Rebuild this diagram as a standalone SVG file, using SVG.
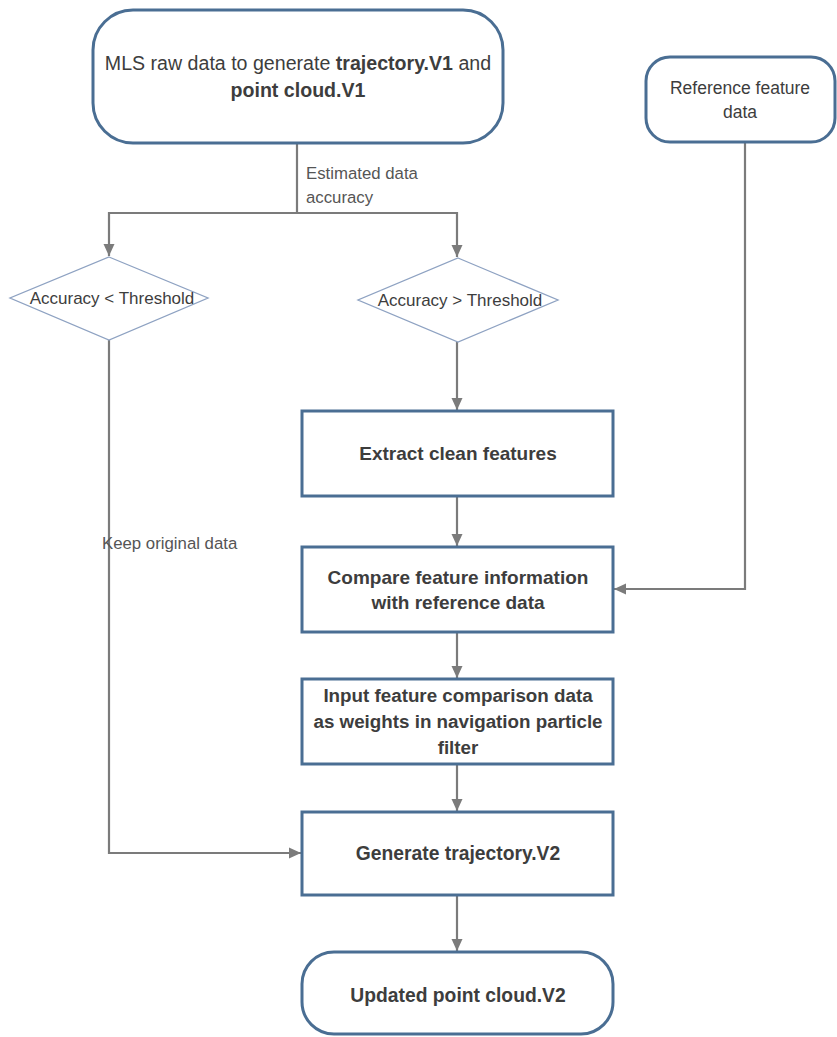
<svg xmlns="http://www.w3.org/2000/svg" width="837" height="1037" viewBox="0 0 837 1037">
<defs>
<marker id="arr" markerUnits="userSpaceOnUse" markerWidth="14" markerHeight="14" viewBox="0 0 14 14" refX="13" refY="7" orient="auto">
<path d="M1,1.5 L13,7 L1,12.5 Z" fill="#7b7b7b"/>
</marker>
<style>
.node{fill:#ffffff;stroke:#4a6e93;stroke-width:3}
.dec{fill:#ffffff;stroke:#8ea2c2;stroke-width:1.3}
.conn{fill:none;stroke:#7b7b7b;stroke-width:2.2}
.t{font-family:"Liberation Sans",Arial,sans-serif;fill:#3d3d3d;text-anchor:middle}
.b{font-weight:bold}
.lbl{font-family:"Liberation Sans",Arial,sans-serif;fill:#555555;font-size:16.8px}
</style>
</defs>
<rect width="837" height="1037" fill="#ffffff"/>
<g id="connectors">
<path class="conn" d="M297,143 V213 H109 V256" marker-end="url(#arr)"/>
<path class="conn" d="M297,213 H457 V257" marker-end="url(#arr)"/>
<path class="conn" d="M457,342 V410" marker-end="url(#arr)"/>
<path class="conn" d="M457,496 V546" marker-end="url(#arr)"/>
<path class="conn" d="M745,142 V589 H614" marker-end="url(#arr)"/>
<path class="conn" d="M457,632 V678" marker-end="url(#arr)"/>
<path class="conn" d="M457,764 V811" marker-end="url(#arr)"/>
<path class="conn" d="M109,340 V853 H301" marker-end="url(#arr)"/>
<path class="conn" d="M457,895 V951" marker-end="url(#arr)"/>
<text class="lbl" x="306" y="179">Estimated data</text>
<text class="lbl" x="306" y="203">accuracy</text>
<text class="lbl" x="102" y="549">Keep original data</text>
</g>
<g id="n_mls">
<rect class="node" x="93" y="10" width="410" height="133" rx="40" ry="40"/>
<text class="t" x="298" y="70" font-size="19.6">MLS raw data to generate <tspan class="b">trajectory.V1</tspan> and</text>
<text class="t b" x="298" y="97" font-size="19.6">point cloud.V1</text>
</g>
<g id="n_ref">
<rect class="node" x="646" y="57" width="189" height="85" rx="24" ry="24"/>
<text class="t" x="740" y="94" font-size="17.5">Reference feature</text>
<text class="t" x="740" y="118" font-size="17.5">data</text>
</g>
<g id="d_less">
<polygon class="dec" points="109,257 208,298 109,340 10,298"/>
<text class="t" x="112" y="304" font-size="17">Accuracy &lt; Threshold</text>
</g>
<g id="d_more">
<polygon class="dec" points="458,258 558,300 458,342 358,300"/>
<text class="t" x="460" y="306" font-size="17">Accuracy &gt; Threshold</text>
</g>
<g id="n_extract">
<rect class="node" x="302" y="411" width="311" height="85"/>
<text class="t b" x="458" y="460" font-size="19">Extract clean features</text>
</g>
<g id="n_compare">
<rect class="node" x="302" y="547" width="311" height="85"/>
<text class="t b" x="458" y="584" font-size="19">Compare feature information</text>
<text class="t b" x="458" y="609" font-size="19">with reference data</text>
</g>
<g id="n_input">
<rect class="node" x="302" y="679" width="311" height="85"/>
<text class="t b" x="458" y="702" font-size="18.8">Input feature comparison data</text>
<text class="t b" x="458" y="728" font-size="18.8">as weights in navigation particle</text>
<text class="t b" x="458" y="754" font-size="18.8">filter</text>
</g>
<g id="n_generate">
<rect class="node" x="302" y="812" width="311" height="83"/>
<text class="t b" x="458" y="860" font-size="19.3">Generate trajectory.V2</text>
</g>
<g id="n_updated">
<rect class="node" x="302" y="952" width="311" height="82" rx="32" ry="32"/>
<text class="t b" x="458" y="1002" font-size="19.3">Updated point cloud.V2</text>
</g>
</svg>
